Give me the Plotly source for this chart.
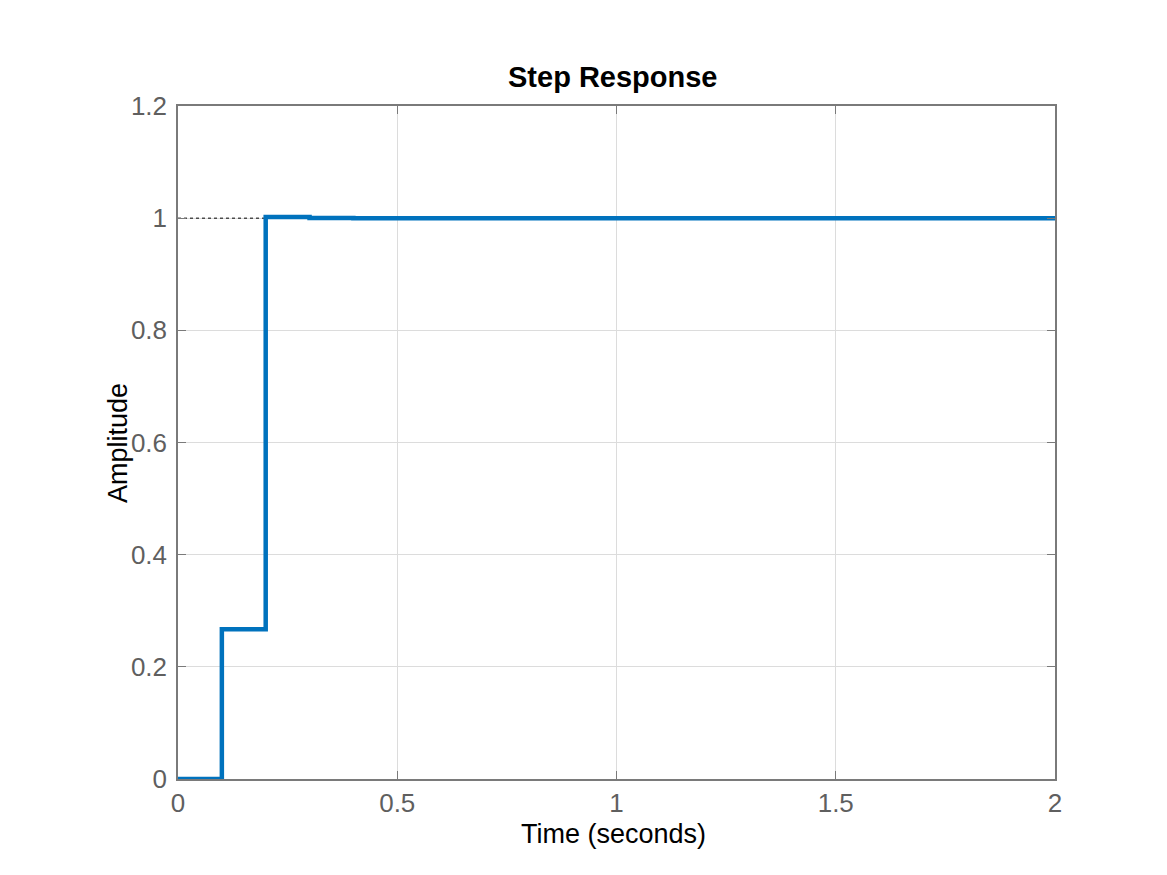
import plotly.graph_objects as go

# step response samples (discrete, Ts = 0.1 s)
time_s = [0.0, 0.1, 0.2, 0.3, 0.4, 0.5, 0.6, 0.7, 0.8, 0.9, 1.0,
          1.1, 1.2, 1.3, 1.4, 1.5, 1.6, 1.7, 1.8, 1.9, 2.0]
amplitude = [0.0, 0.267, 1.002, 1.0003, 1.0, 1.0, 1.0, 1.0, 1.0, 1.0, 1.0,
             1.0, 1.0, 1.0, 1.0, 1.0, 1.0, 1.0, 1.0, 1.0, 1.0]

# steady-state marker line
ss_time = [0.0, 0.2]
ss_value = [1.0, 1.0]

x_ticks = [0, 0.5, 1, 1.5, 2]
x_labels = ["0", "0.5", "1", "1.5", "2"]
y_ticks = [0, 0.2, 0.4, 0.6, 0.8, 1, 1.2]
y_labels = ["0", "0.2", "0.4", "0.6", "0.8", "1", "1.2"]

FONT = "Liberation Sans, Arial, Helvetica, sans-serif"

fig = go.Figure()

fig.add_trace(go.Scatter(x=ss_time, y=ss_value, mode="lines",
                         line=dict(color="black", width=1, dash="dot"),
                         showlegend=False, hoverinfo="skip"))

fig.add_trace(go.Scatter(x=time_s, y=amplitude, mode="lines",
                         line=dict(color="#0072BD", width=4.5, shape="hv"),
                         showlegend=False))

axis_common = dict(
    showline=True, linecolor="#7a7a7a", linewidth=1.5, mirror="ticks",
    ticks="inside", ticklen=8, tickcolor="#7a7a7a", tickwidth=1.2,
    showgrid=True, gridcolor="#dcdcdc", gridwidth=1,
    zeroline=False,
    tickfont=dict(family=FONT, size=26, color="#5f5f5f"),
)

fig.update_xaxes(range=[0, 2], tickvals=x_ticks, ticktext=x_labels,
                 ticklabelstandoff=0, **axis_common)
fig.update_yaxes(range=[0, 1.2], tickvals=y_ticks, ticktext=y_labels,
                 ticklabelstandoff=4, **axis_common)

# plot area is 877 x 673 px; labels placed relative to it
fig.add_annotation(text="Time (seconds)", xref="paper", yref="paper",
                   x=0.497, y=-0.081, xanchor="center", yanchor="middle",
                   showarrow=False, font=dict(family=FONT, size=27, color="black"))
fig.add_annotation(text="Amplitude", xref="paper", yref="paper",
                   x=-0.069, y=0.5, xanchor="center", yanchor="middle", textangle=-90,
                   showarrow=False, font=dict(family=FONT, size=27, color="black"))
fig.add_annotation(text="<b>Step Response</b>", xref="paper", yref="paper",
                   x=0.496, y=1.043, xanchor="center", yanchor="middle",
                   showarrow=False, font=dict(family=FONT, size=29, color="black"))

# the page body adds an 8 px offset, so the figure is shrunk to fit the window
fig.update_layout(
    width=1159, height=867,
    margin=dict(l=170, r=112, t=98, b=96),
    paper_bgcolor="white", plot_bgcolor="white",
)

fig.write_html("out.html")
